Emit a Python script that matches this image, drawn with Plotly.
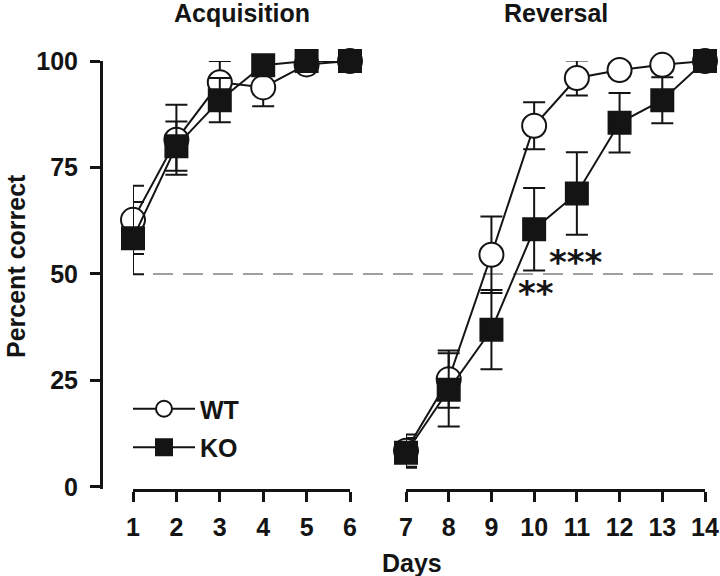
import plotly.graph_objects as go

# ---- data ----
acq_days = [1, 2, 3, 4, 5, 6]
rev_days = [7, 8, 9, 10, 11, 12, 13, 14]

wt_acq = [62.7, 81.5, 95.0, 93.8, 99.2, 100.0]
wt_acq_err = [8.0, 8.2, 5.0, 4.4, 1.0, 0.5]
ko_acq = [58.4, 80.0, 90.8, 99.0, 100.0, 100.0]
ko_acq_err = [8.5, 5.8, 5.2, 1.0, 0.5, 0.5]

wt_rev = [8.5, 25.3, 54.5, 84.8, 96.0, 97.9, 99.1, 100.0]
wt_rev_err = [3.8, 6.7, 9.0, 5.5, 4.1, 1.5, 1.5, 0.5]
ko_rev = [8.0, 22.8, 36.9, 60.5, 68.9, 85.5, 90.8, 100.0]
ko_rev_err = [3.5, 8.6, 9.3, 9.7, 9.7, 7.0, 5.4, 0.5]

y_ticks = [0, 25, 50, 75, 100]
chance_level = 50

FONT = "Liberation Sans, Arial, sans-serif"
INK = "#141414"
FS = 25

W, H = 720, 576


def px(x):
    return x / W


def py(y):
    return 1 - y / H


fig = go.Figure()


def add_series(x, y, err, xaxis, name, symbol, fill, size, showlegend):
    fig.add_trace(go.Scatter(
        x=x, y=y, xaxis=xaxis, yaxis="y",
        mode="lines+markers", name=name, legendgroup=name,
        showlegend=showlegend, cliponaxis=False,
        line=dict(color=INK, width=2),
        marker=dict(symbol=symbol, size=size, color=fill,
                    line=dict(color=INK, width=2)),
        error_y=dict(type="data", array=err, visible=True,
                     color=INK, thickness=2, width=11),
    ))


add_series(acq_days, wt_acq, wt_acq_err, "x", "WT", "circle", "white", 24, True)
add_series(rev_days, wt_rev, wt_rev_err, "x2", "WT", "circle", "white", 24, False)
add_series(acq_days, ko_acq, ko_acq_err, "x", "KO", "square", INK, 22, True)
add_series(rev_days, ko_rev, ko_rev_err, "x2", "KO", "square", INK, 22, False)

tickfont = dict(family=FONT, size=FS, color=INK)
axis_common = dict(
    showline=True, linewidth=3, linecolor=INK,
    ticks="outside", ticklen=10, tickwidth=3, tickcolor=INK,
    showgrid=False, zeroline=False, tickfont=tickfont, automargin=False,
)

fig.update_layout(
    template="none",
    width=W, height=H,
    margin=dict(l=0, r=0, t=0, b=0, autoexpand=False),
    paper_bgcolor="white", plot_bgcolor="white",
    font=dict(family=FONT, color=INK),
    xaxis=dict(domain=[px(133), px(350)], range=[1, 6], anchor="y",
               tickvals=acq_days, ticktext=[f"<b>{d}</b>" for d in acq_days],
               ticklabelstandoff=4, **axis_common),
    xaxis2=dict(domain=[px(406), px(705)], range=[7, 14], anchor="y",
                tickvals=rev_days, ticktext=[f"<b>{d}</b>" for d in rev_days],
                ticklabelstandoff=4, **axis_common),
    yaxis=dict(domain=[py(489), py(61)], range=[-0.5, 100],
               anchor="free", position=px(101),
               tickvals=y_ticks, ticktext=[f"<b>{v}</b>" for v in y_ticks],
               ticklabelstandoff=7, **axis_common),
    showlegend=True,
    legend=dict(x=px(128), y=py(386), xanchor="left", yanchor="top",
                bgcolor="rgba(0,0,0,0)", tracegroupgap=3,
                traceorder="grouped", itemwidth=62,
                font=dict(family=FONT, size=FS, color=INK, weight="bold")),
)

# chance line
fig.add_shape(type="line", xref="paper", yref="y",
              x0=px(153), x1=px(717), y0=chance_level, y1=chance_level,
              line=dict(color="#a0a0a0", width=2, dash="20px,10px"),
              layer="below")

ann = dict(showarrow=False, xanchor="center", yanchor="middle",
           font=dict(family=FONT, size=FS, color=INK))
fig.add_annotation(text="<b>Acquisition</b>", xref="paper", yref="paper",
                   x=px(242), y=py(13), **ann)
fig.add_annotation(text="<b>Reversal</b>", xref="paper", yref="paper",
                   x=px(556), y=py(13), **ann)
fig.add_annotation(text="<b>Percent correct</b>", xref="paper", yref="paper",
                   x=px(16), y=py(266), textangle=-90, **ann)
fig.add_annotation(text="<b>Days</b>", xref="paper", yref="paper",
                   x=px(412), y=py(563), **ann)

star = dict(showarrow=False, xanchor="center", yanchor="middle",
            font=dict(family="DejaVu Sans, sans-serif", size=34, color=INK))
fig.add_annotation(text="<b>***</b>", xref="x2", yref="y", x=10.98, y=52.8, **star)
fig.add_annotation(text="<b>**</b>", xref="x2", yref="y", x=10.04, y=45.6, **star)

# remove the default 8px page margin so the 720x576 figure fills the window
fig.write_html(
    "out.html",
    config={"displayModeBar": False},
    post_script="document.body.style.margin='0';document.body.style.padding='0';",
)
